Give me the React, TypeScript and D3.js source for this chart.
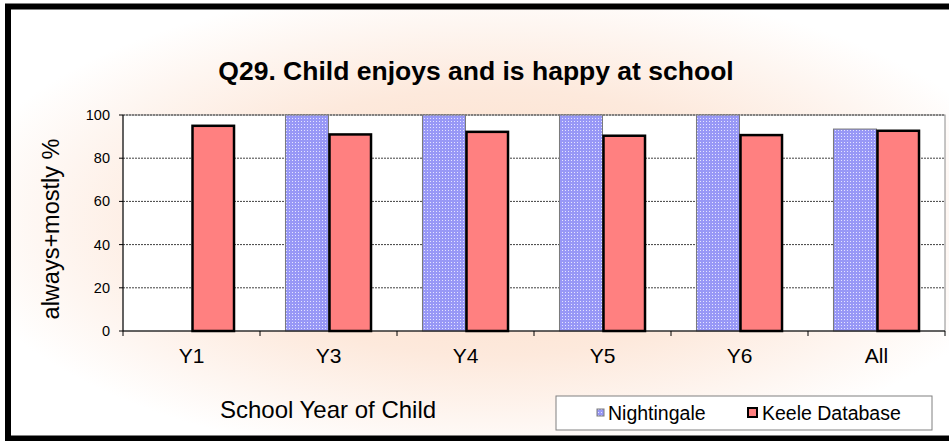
import React from "react";
import * as d3 from "d3";

// Q29 grouped bars: Nightingale vs Keele Database, by school year.
const years = ["Y1", "Y3", "Y4", "Y5", "Y6", "All"];
const nightingale: (number | null)[] = [null, 100, 100, 100, 100, 93.5];
const keele = [95, 91, 92.2, 90.4, 90.7, 92.7];
const yTicks = [0, 20, 40, 60, 80, 100];

const W = 949;
const H = 441;
const plot = { left: 123, right: 945, top: 115, bottom: 331 };
const font = "'Liberation Sans', Arial, sans-serif";

export default function App() {
  const x0 = d3
    .scaleBand()
    .domain(years)
    .range([plot.left, plot.right])
    .paddingInner(0.372)
    .paddingOuter(0.186);
  const x1 = d3.scaleBand().domain(["n", "k"]).range([0, x0.bandwidth()]);
  const y = d3.scaleLinear().domain([0, 100]).range([plot.bottom, plot.top]);
  const step = x0.step();

  return (
    <svg
      width={W}
      height={H}
      style={{ position: "fixed", left: 0, top: 0, display: "block" }}
      fontFamily={font}
    >
      <defs>
        <radialGradient id="glow" cx="50%" cy="50%" r="56%" fx="50%" fy="50%">
          <stop offset="0" stopColor="#fcdcc4" />
          <stop offset="0.55" stopColor="#fde9dc" />
          <stop offset="0.82" stopColor="#fef6f1" />
          <stop offset="1" stopColor="#ffffff" />
        </radialGradient>
        <pattern id="dots" width="3" height="3" patternUnits="userSpaceOnUse">
          <rect width="3" height="3" fill="#9898f6" />
          <rect x="1" y="1" width="1" height="1" fill="#e4e4ff" />
        </pattern>
      </defs>

      <rect x={0} y={0} width={W} height={H} fill="#ffffff" />
      <rect x={8} y={6.5} width={W + 20} height={432} fill="url(#glow)" />
      <rect x={8} y={6.5} width={W + 20} height={432} fill="none" stroke="#000" strokeWidth={6} />

      <text x={476} y={80} textAnchor="middle" fontSize={26.5} fontWeight="bold" fill="#000">
        Q29. Child enjoys and is happy at school
      </text>

      {/* plot area */}
      <rect
        x={plot.left}
        y={plot.top}
        width={plot.right - plot.left}
        height={plot.bottom - plot.top}
        fill="#fff"
        stroke="#8c8c8c"
        strokeWidth={1}
      />
      {yTicks.slice(1).map((t) => (
        <line
          key={t}
          x1={plot.left}
          x2={plot.right}
          y1={y(t)}
          y2={y(t)}
          stroke="#404040"
          strokeWidth={1}
          strokeDasharray="2,1"
        />
      ))}

      {/* bars */}
      {years.map((yr, i) => {
        const bx = x0(yr) as number;
        const n = nightingale[i];
        return (
          <g key={yr}>
            {n != null && (
              <rect
                x={bx + (x1("n") as number)}
                y={y(n)}
                width={x1.bandwidth()}
                height={plot.bottom - y(n)}
                fill="url(#dots)"
                stroke="#7a7a7a"
                strokeWidth={1}
              />
            )}
            <rect
              x={bx + (x1("k") as number) + 1}
              y={y(keele[i])}
              width={x1.bandwidth() - 1.5}
              height={plot.bottom - y(keele[i])}
              fill="#ff8080"
              stroke="#000"
              strokeWidth={2.5}
            />
          </g>
        );
      })}

      {/* y axis */}
      <line x1={plot.left} x2={plot.left} y1={plot.top} y2={plot.bottom} stroke="#000" />
      {yTicks.map((t) => (
        <g key={t}>
          <line x1={plot.left - 4} x2={plot.left} y1={y(t)} y2={y(t)} stroke="#000" />
          <text x={110} y={y(t) + 5} textAnchor="end" fontSize={14.5} fill="#000">
            {t}
          </text>
        </g>
      ))}

      {/* x axis */}
      <line x1={plot.left} x2={plot.right} y1={plot.bottom} y2={plot.bottom} stroke="#000" />
      {d3.range(years.length + 1).map((k) => (
        <line
          key={k}
          x1={plot.left + k * step}
          x2={plot.left + k * step}
          y1={plot.bottom}
          y2={plot.bottom + 5}
          stroke="#000"
        />
      ))}
      {years.map((yr) => (
        <text
          key={yr}
          x={(x0(yr) as number) + x0.bandwidth() / 2}
          y={363}
          textAnchor="middle"
          fontSize={21}
          fill="#000"
        >
          {yr}
        </text>
      ))}

      <text x={328} y={418} textAnchor="middle" fontSize={24} fill="#000">
        School Year of Child
      </text>
      <text
        transform="translate(59,229) rotate(-90)"
        textAnchor="middle"
        fontSize={23.5}
        fill="#000"
      >
        always+mostly %
      </text>

      {/* legend */}
      <rect x={556} y={396} width={376} height={34} fill="#fff" stroke="#808080" strokeWidth={1} />
      <rect x={597} y={409} width={7} height={7} fill="url(#dots)" stroke="#7a7a7a" strokeWidth={1} />
      <text x={608} y={419.5} fontSize={19.5} fill="#000">
        Nightingale
      </text>
      <rect x={748} y={408} width={9} height={9} fill="#ff8080" stroke="#000" strokeWidth={2} />
      <text x={762} y={419.5} fontSize={19.5} fill="#000">
        Keele Database
      </text>
    </svg>
  );
}
